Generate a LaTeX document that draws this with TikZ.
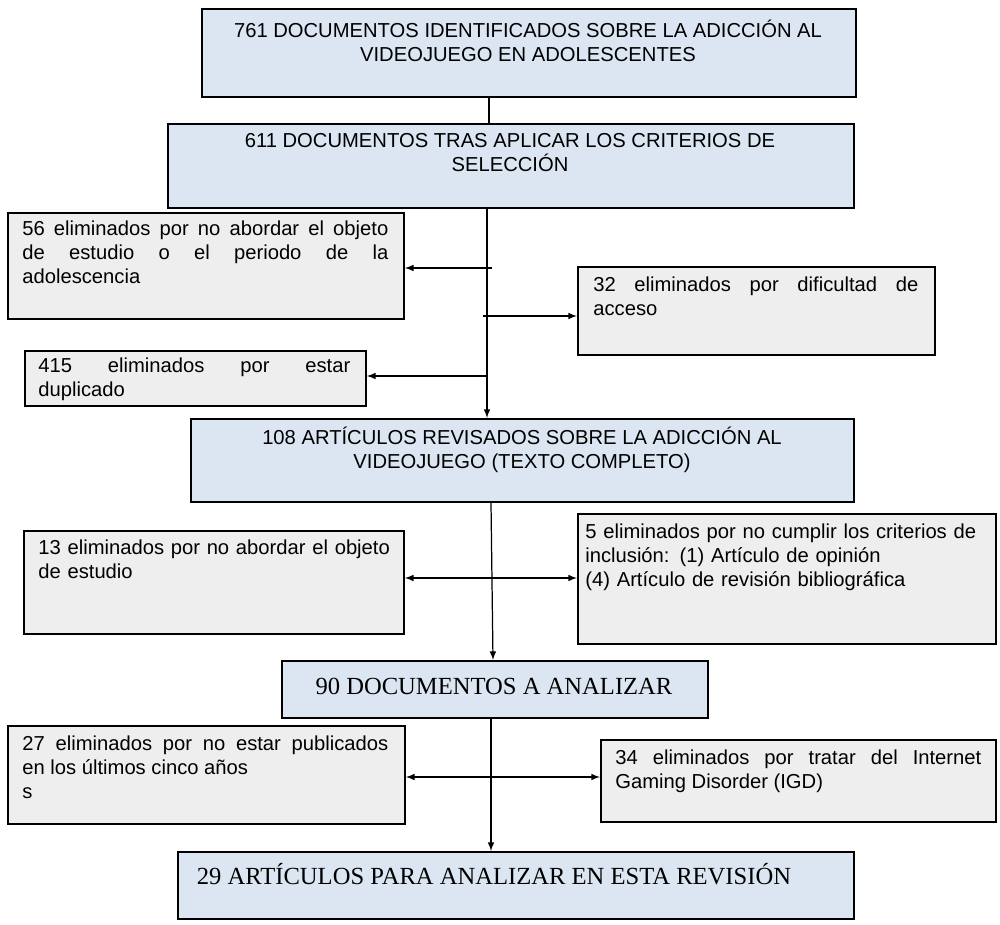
\documentclass[tikz,border=0pt]{standalone}
\usepackage{fontspec}
\setmainfont{Liberation Sans}
\newfontfamily\serifx{Liberation Serif}
\definecolor{bx}{RGB}{220,230,242}
\definecolor{gx}{RGB}{238,238,238}
\hyphenpenalty=10000
\exhyphenpenalty=10000
\begin{document}
\begin{tikzpicture}[x=0.02cm,y=-0.02cm,
  blue/.style={draw, line width=1.1pt, fill=bx, anchor=north west, inner sep=0},
  grey/.style={draw, line width=1.1pt, fill=gx, anchor=north west, inner sep=0},
  txt/.style={anchor=north west, inner sep=0, font=\fontsize{11.5}{13.6}\selectfont, align=justify},
  ctxt/.style={anchor=north, inner sep=0, font=\fontsize{11.5}{13.6}\selectfont, align=center},
  stxt/.style={anchor=center, inner sep=0, font=\serifx\fontsize{14}{16}\selectfont},
  arr/.style={-latex, line width=0.7pt},
  darr/.style={latex-latex, line width=0.7pt},
  ln/.style={line width=0.7pt}]
\useasboundingbox (0,0) rectangle (1000,925);
% boxes
\node[blue, minimum width=654*0.02cm, minimum height=88*0.02cm] (b1) at (201,8) {};
\node[ctxt] (t1) at (528,20) {761 DOCUMENTOS IDENTIFICADOS SOBRE LA ADICCIÓN AL\\VIDEOJUEGO EN ADOLESCENTES};
\node[blue, minimum width=686*0.02cm, minimum height=84*0.02cm] (b2) at (167,123) {};
\node[ctxt] (t2) at (510,133) {611 DOCUMENTOS TRAS APLICAR LOS CRITERIOS DE\\SELECCIÓN};
\node[grey, minimum width=396*0.02cm, minimum height=106*0.02cm] (b3) at (7,212) {};
\node[txt, text width=366*0.02cm] (t3) at (22,221) {56 eliminados por no abordar el objeto\linebreak de estudio o el periodo de la\linebreak adolescencia};
\node[grey, minimum width=357*0.02cm, minimum height=88*0.02cm] (b4) at (577,266) {};
\node[txt, text width=325*0.02cm] (t4) at (593,277) {32 eliminados por dificultad de\linebreak acceso};
\node[grey, minimum width=341*0.02cm, minimum height=55*0.02cm] (b5) at (24,350) {};
\node[txt, text width=312*0.02cm] (t5) at (38,358) {415 eliminados por estar\linebreak duplicado};
\node[blue, minimum width=663*0.02cm, minimum height=83*0.02cm] (b6) at (190,418) {};
\node[ctxt] (t6) at (522,427) {108 ARTÍCULOS REVISADOS SOBRE LA ADICCIÓN AL\\VIDEOJUEGO (TEXTO COMPLETO)};
\node[grey, minimum width=380*0.02cm, minimum height=103*0.02cm] (b7) at (23,530) {};
\node[txt, text width=355*0.02cm, align=left] (t7) at (38,540) {13 eliminados por no abordar el objeto\\de estudio};
\node[grey, minimum width=418*0.02cm, minimum height=130*0.02cm] (b8) at (577,513) {};
\node[txt, text width=405*0.02cm, align=left] (t8) at (585,524) {5 eliminados por no cumplir los criterios de\\inclusión: (1) Artículo de opinión\\(4) Artículo de revisión bibliográfica};
\node[blue, minimum width=426*0.02cm, minimum height=57*0.02cm] (b9) at (281,660) {};
\node[stxt] (t9) at (494,686) {90 DOCUMENTOS A ANALIZAR};
\node[grey, minimum width=397*0.02cm, minimum height=98*0.02cm] (b10) at (7,725) {};
\node[txt, text width=366*0.02cm] (t10) at (22,736) {27 eliminados por no estar publicados\linebreak en los últimos cinco años\\s};
\node[grey, minimum width=395*0.02cm, minimum height=82*0.02cm] (b11) at (600,739) {};
\node[txt, text width=366*0.02cm] (t11) at (615,750) {34 eliminados por tratar del Internet\linebreak Gaming Disorder (IGD)};
\node[blue, minimum width=676*0.02cm, minimum height=67*0.02cm] (b12) at (177,851) {};
\node[stxt] (t12) at (494,874) {29 ARTÍCULOS PARA ANALIZAR EN ESTA REVISIÓN};
% connectors
\draw[ln] (b1.south -| 489,0) -- (b2.north -| 489,0);
\draw[arr] (b2.south -| 487,0) -- (b6.north -| 487,0);
\coordinate (c1) at (492,268);
\coordinate (c2) at (483,316);
\coordinate (c3) at (487,376);
\draw[arr] (c1) -- (c1 -| b3.east);
\draw[arr] (c2) -- (c2 -| b4.west);
\draw[arr] (c3) -- (c3 -| b5.east);
\draw[arr] (b6.south -| 491,0) -- (b9.north -| 493,0);
\coordinate (c4) at (490,578);
\draw[darr] (c4 -| b7.east) -- (c4 -| b8.west);
\draw[arr] (b9.south -| 491,0) -- (b12.north -| 491,0);
\coordinate (c5) at (490,777);
\draw[darr] (c5 -| b10.east) -- (c5 -| b11.west);
\end{tikzpicture}
\end{document}
